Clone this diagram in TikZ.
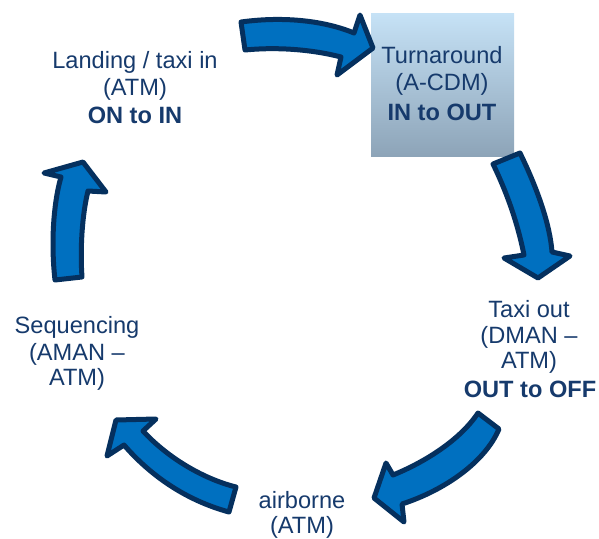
\documentclass[tikz,border=0pt]{standalone}
\usepackage{fontspec}
\setmainfont{Liberation Sans}
\definecolor{txt}{RGB}{22,58,108}
\definecolor{afill}{RGB}{0,112,192}
\definecolor{aline}{RGB}{5,48,94}
\definecolor{boxtop}{RGB}{198,226,246}
\definecolor{boxbot}{RGB}{141,164,184}
\begin{document}
\begin{tikzpicture}[x=1pt,y=-1pt,
  blockarrow/.style={fill=afill,draw=aline,line width=5pt,line join=round},
  lbl/.style={font=\fontsize{23.6}{27}\selectfont,text=txt,inner sep=0pt,anchor=base},
  blbl/.style={lbl,font=\fontsize{23.6}{27}\selectfont\bfseries}]
\useasboundingbox (0,0) rectangle (599,538);
% Turnaround box
\shade[top color=boxtop,bottom color=boxbot] (371,13) rectangle (514,156);
\node[lbl] (t1) at (442,63) {Turnaround};
\node[lbl] (t2) at (442,90) {(A-CDM)};
\node[blbl] (t3) at (442,120) {IN to OUT};
% Landing
\node[lbl] (l1) at (135,68) {Landing / taxi in};
\node[lbl] (l2) at (135,95) {(ATM)};
\node[blbl] (l3) at (135,123) {ON to IN};
% Taxi out
\node[lbl] (x1) at (529,317) {Taxi out};
\node[lbl] (x2) at (529,343) {(DMAN –};
\node[lbl] (x3) at (529,368) {ATM)};
\node[blbl] (x4) at (530,397) {OUT to OFF};
% Sequencing
\node[lbl] (s1) at (77,333) {Sequencing};
\node[lbl] (s2) at (77,360) {(AMAN –};
\node[lbl] (s3) at (77,385) {ATM)};
% airborne
\node[lbl] (a1) at (302,508) {airborne};
\node[lbl] (a2) at (302,533) {(ATM)};
% arrow 1 (top, to the right)
\draw[blockarrow] (241,22) .. controls (285,16) and (325,21) .. (354,33)
  -- (360,15) -- (373,48) -- (337,75) -- (341,57)
  .. controls (310,49) and (275,47) .. (245,50) -- cycle;
% arrow 2 (right, downwards)
\draw[blockarrow] (493,164) -- (520,153)
  .. controls (538,190) and (550,225) .. (552,252)
  -- (570,256) -- (538,278) -- (504,258) -- (524,255)
  .. controls (518,225) and (508,195) .. (493,164) -- cycle;
% arrow 3 (bottom right, down-left)
\draw[blockarrow] (478,413) -- (499,429)
  .. controls (485,462) and (445,490) .. (402,504)
  -- (404,522) -- (374,498) -- (386,463) -- (393,475)
  .. controls (425,462) and (460,440) .. (478,413) -- cycle;
% arrow 4 (bottom left, up-left)
\draw[blockarrow] (236,487) -- (229,512)
  .. controls (185,500) and (150,475) .. (124,445)
  -- (107,456) -- (116,420) -- (156,419) -- (143,431)
  .. controls (165,455) and (200,478) .. (236,487) -- cycle;
% arrow 5 (left, upwards)
\draw[blockarrow] (55,280) -- (82,277)
  .. controls (80,250) and (82,215) .. (88,191)
  -- (106,192) -- (83,162) -- (44,173) -- (61,177)
  .. controls (53,205) and (51,245) .. (55,280) -- cycle;
\end{tikzpicture}
\end{document}
